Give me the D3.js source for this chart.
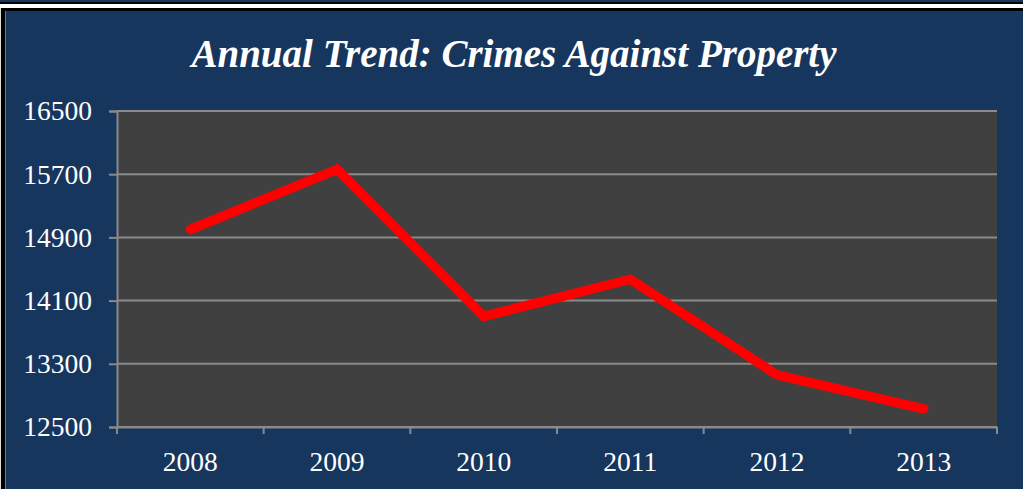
<!DOCTYPE html>
<html>
<head>
<meta charset="utf-8">
<script src="https://cdn.jsdelivr.net/npm/d3@7"></script>
<style>
  html, body { margin: 0; padding: 0; background: #ffffff; }
  svg { display: block; }
</style>
</head>
<body>
<div id="chart"></div>
<script>
// data
const years = ['2008', '2009', '2010', '2011', '2012', '2013'];
const crimes = [15000, 15760, 13900, 14370, 13160, 12730];
const yTicks = [12500, 13300, 14100, 14900, 15700, 16500];
const title = 'Annual Trend: Crimes Against Property';

const width = 1023, height = 489;
const margin = {top: 111, right: 26, bottom: 62, left: 117};

const svg = d3.select('#chart').append('svg')
  .attr('width', width)
  .attr('height', height);

// background + frame bits
svg.append('rect').attr('width', width).attr('height', height).attr('fill', '#17365d');
svg.append('rect').attr('x', 0).attr('y', 2).attr('width', width).attr('height', 2).attr('fill', '#000');
svg.append('rect').attr('x', 0).attr('y', 4).attr('width', width).attr('height', 4).attr('fill', '#fff');
svg.append('rect').attr('x', 0).attr('y', 8).attr('width', width).attr('height', 3).attr('fill', '#000');
svg.append('rect').attr('x', 0).attr('y', 8).attr('width', 1).attr('height', height).attr('fill', '#ddd');
svg.append('rect').attr('x', 1).attr('y', 8).attr('width', 4).attr('height', height).attr('fill', '#000');
svg.append('rect').attr('x', 5).attr('y', 11).attr('width', 1).attr('height', height).attr('fill', '#777');

const x = d3.scaleBand()
  .domain(years)
  .range([margin.left, width - margin.right]);

const y = d3.scaleLinear()
  .domain([12500, 16500])
  .range([height - margin.bottom, margin.top]);

// plot area
svg.append('rect')
  .attr('x', margin.left)
  .attr('y', margin.top)
  .attr('width', width - margin.left - margin.right)
  .attr('height', height - margin.top - margin.bottom)
  .attr('fill', '#404040');

// gridlines
svg.append('g')
  .selectAll('line')
  .data(yTicks)
  .join('line')
  .attr('x1', margin.left)
  .attr('x2', width - margin.right)
  .attr('y1', d => y(d))
  .attr('y2', d => y(d))
  .attr('stroke', '#8a8a8a')
  .attr('stroke-width', 2);

// y axis
const yAxis = svg.append('g')
  .attr('transform', `translate(${margin.left},0)`)
  .call(d3.axisLeft(y).tickValues(yTicks).tickSize(8).tickPadding(17).tickFormat(d3.format('d')));

// x axis
const xAxis = svg.append('g')
  .attr('transform', `translate(0,${height - margin.bottom})`)
  .call(d3.axisBottom(x).tickSize(0).tickPadding(24));

// x ticks at category boundaries
svg.append('g')
  .selectAll('line')
  .data(years.concat(['end']))
  .join('line')
  .attr('x1', (d, i) => margin.left + i * x.step())
  .attr('x2', (d, i) => margin.left + i * x.step())
  .attr('y1', height - margin.bottom)
  .attr('y2', height - margin.bottom + 7)
  .attr('stroke', '#8a8a8a')
  .attr('stroke-width', 2);

[yAxis, xAxis].forEach(g => {
  g.selectAll('.domain').attr('stroke', '#8a8a8a').attr('stroke-width', 2);
  g.selectAll('.tick line').attr('stroke', '#8a8a8a').attr('stroke-width', 2);
  g.selectAll('text')
    .attr('fill', '#ffffff')
    .style('font-family', '"Liberation Serif", "Times New Roman", serif')
    .style('font-size', '27.5px');
});

// the line
const line = d3.line()
  .x((d, i) => x(years[i]) + x.bandwidth() / 2)
  .y(d => y(d));

svg.append('path')
  .datum(crimes)
  .attr('d', line)
  .attr('fill', 'none')
  .attr('stroke', '#ff0000')
  .attr('stroke-width', 9.5)
  .attr('stroke-linecap', 'round')
  .attr('stroke-linejoin', 'miter');

// title
svg.append('text')
  .attr('x', 514)
  .attr('y', 67)
  .attr('text-anchor', 'middle')
  .attr('fill', '#ffffff')
  .style('font-family', '"Liberation Serif", "Times New Roman", serif')
  .style('font-weight', 'bold')
  .style('font-style', 'italic')
  .style('font-size', '39px')
  .text(title);
</script>
</body>
</html>
